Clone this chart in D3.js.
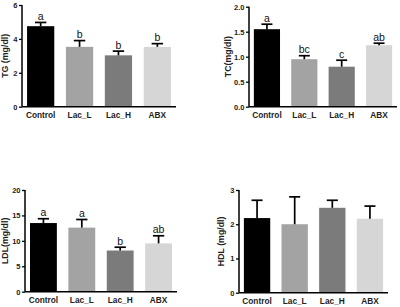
<!DOCTYPE html>
<html>
<head>
<meta charset="utf-8" />
<script src="https://cdn.jsdelivr.net/npm/d3@7"></script>
<style>
  body { margin: 0; background: #fff; }
  svg text { font-family: "Liberation Sans", Arial, sans-serif; }
</style>
</head>
<body>
<svg id="chart" width="400" height="307"></svg>
<script>
// groups, shared by all four panels
const groups = ['Control', 'Lac_L', 'Lac_H', 'ABX']
const barColors = ['#000000', '#a3a3a3', '#7b7b7b', '#d6d6d6']

// TG
const tgMean = [4.75, 3.53, 3.03, 3.53]
const tgErr  = [4.97, 3.9, 3.28, 3.72]
const tgLetters = ['a', 'b', 'b', 'b']
const tgTicks = [0, 2, 4, 6]

// TC
const tcMean = [1.55, 0.95, 0.8, 1.23]
const tcErr  = [1.65, 1.02, 0.93, 1.27]
const tcLetters = ['a', 'bc', 'c', 'ab']
const tcTicks = [0, 0.5, 1.0, 1.5, 2.0]

// LDL
const ldlMean = [13.5, 12.6, 8.1, 9.5]
const ldlErr  = [14.35, 14.2, 8.75, 11.0]
const ldlLetters = ['a', 'a', 'b', 'ab']
const ldlTicks = [0, 5, 10, 15, 20]

// HDL
const hdlMean = [2.18, 2.0, 2.48, 2.16]
const hdlErr  = [2.7, 2.8, 2.7, 2.53]
const hdlLetters = ['', '', '', '']
const hdlTicks = [0, 1, 2, 3]

const svg = d3.select('#chart')

function panel(cfg){
  const g = svg.append('g')
  const x = d3.scaleBand()
    .domain(groups)
    .range([cfg.x0, cfg.x1])
    .paddingInner(0.3)
    .paddingOuter(0.13)
  const y = d3.scaleLinear()
    .domain([0, d3.max(cfg.ticks)])
    .range([cfg.yb, cfg.yt])

  // bars
  g.selectAll('rect.bar')
    .data(cfg.mean)
    .join('rect')
    .attr('x', (d, i) => x(groups[i]))
    .attr('y', d => y(d))
    .attr('width', x.bandwidth())
    .attr('height', d => y(0) - y(d))
    .attr('fill', (d, i) => barColors[i])

  // error bars, up only
  const capW = x.bandwidth() * 0.42
  cfg.err.forEach((e, i) => {
    const cx = x(groups[i]) + x.bandwidth() / 2
    g.append('line')
      .attr('x1', cx).attr('x2', cx)
      .attr('y1', y(cfg.mean[i])).attr('y2', y(e))
      .attr('stroke', '#000').attr('stroke-width', 1.7)
    g.append('line')
      .attr('x1', cx - capW / 2).attr('x2', cx + capW / 2)
      .attr('y1', y(e)).attr('y2', y(e))
      .attr('stroke', '#000').attr('stroke-width', 1.7)
    if (cfg.letters[i]) {
      g.append('text')
        .attr('x', cx)
        .attr('y', y(e) - 2.5)
        .attr('text-anchor', 'middle')
        .attr('font-size', 10.5)
        .attr('fill', '#111')
        .text(cfg.letters[i])
    }
  })

  // y axis
  const ya = g.append('g')
    .attr('transform', `translate(${cfg.x0},0)`)
    .call(d3.axisLeft(y).tickValues(cfg.ticks).tickSize(3).tickPadding(1.5)
      .tickFormat(cfg.fmt))
  ya.select('.domain').attr('stroke-width', 1.5).attr('d', `M0,${y(0)}V${y(d3.max(cfg.ticks))}`)
  ya.selectAll('.tick line').attr('stroke-width', 1.3)
  ya.selectAll('.tick text')
    .attr('font-size', 7.5)
    .attr('font-weight', 'bold')
    .attr('font-family', '"Liberation Sans", Arial, sans-serif')
    .attr('fill', '#222')

  // x axis
  const xa = g.append('g')
    .attr('transform', `translate(0,${y(0)})`)
    .call(d3.axisBottom(x).tickSize(0).tickPadding(5))
  xa.select('.domain').attr('stroke-width', 1.5).attr('d', `M${cfg.x0},0H${cfg.x1}`)
  xa.selectAll('.tick text')
    .attr('font-size', 8.3)
    .attr('font-weight', 'bold')
    .attr('font-family', '"Liberation Sans", Arial, sans-serif')
    .attr('fill', '#222')

  // y title
  g.append('text')
    .attr('transform', `translate(${cfg.tx},${(cfg.yt + cfg.yb) / 2}) rotate(-90)`)
    .attr('text-anchor', 'middle')
    .attr('dominant-baseline', 'middle')
    .attr('font-size', 8.8)
    .attr('font-weight', 'bold')
    .attr('fill', '#222')
    .text(cfg.title)
}

panel({ x0: 22, x1: 176, yt: 5, yb: 106.7, mean: tgMean, err: tgErr, letters: tgLetters,
  ticks: tgTicks, fmt: d3.format('d'), title: 'TG (mg/dl)', tx: 6 })
panel({ x0: 249, x1: 397, yt: 6.7, yb: 106.7, mean: tcMean, err: tcErr, letters: tcLetters,
  ticks: tcTicks, fmt: d3.format('.1f'), title: 'TC(mg/dl)', tx: 228.5 })
panel({ x0: 25, x1: 177, yt: 190, yb: 291.7, mean: ldlMean, err: ldlErr, letters: ldlLetters,
  ticks: ldlTicks, fmt: d3.format('d'), title: 'LDL(mg/dl)', tx: 5.5 })
panel({ x0: 239, x1: 388, yt: 190, yb: 292.7, mean: hdlMean, err: hdlErr, letters: hdlLetters,
  ticks: hdlTicks, fmt: d3.format('d'), title: 'HDL (mg/dl)', tx: 222 })
</script>
</body>
</html>
